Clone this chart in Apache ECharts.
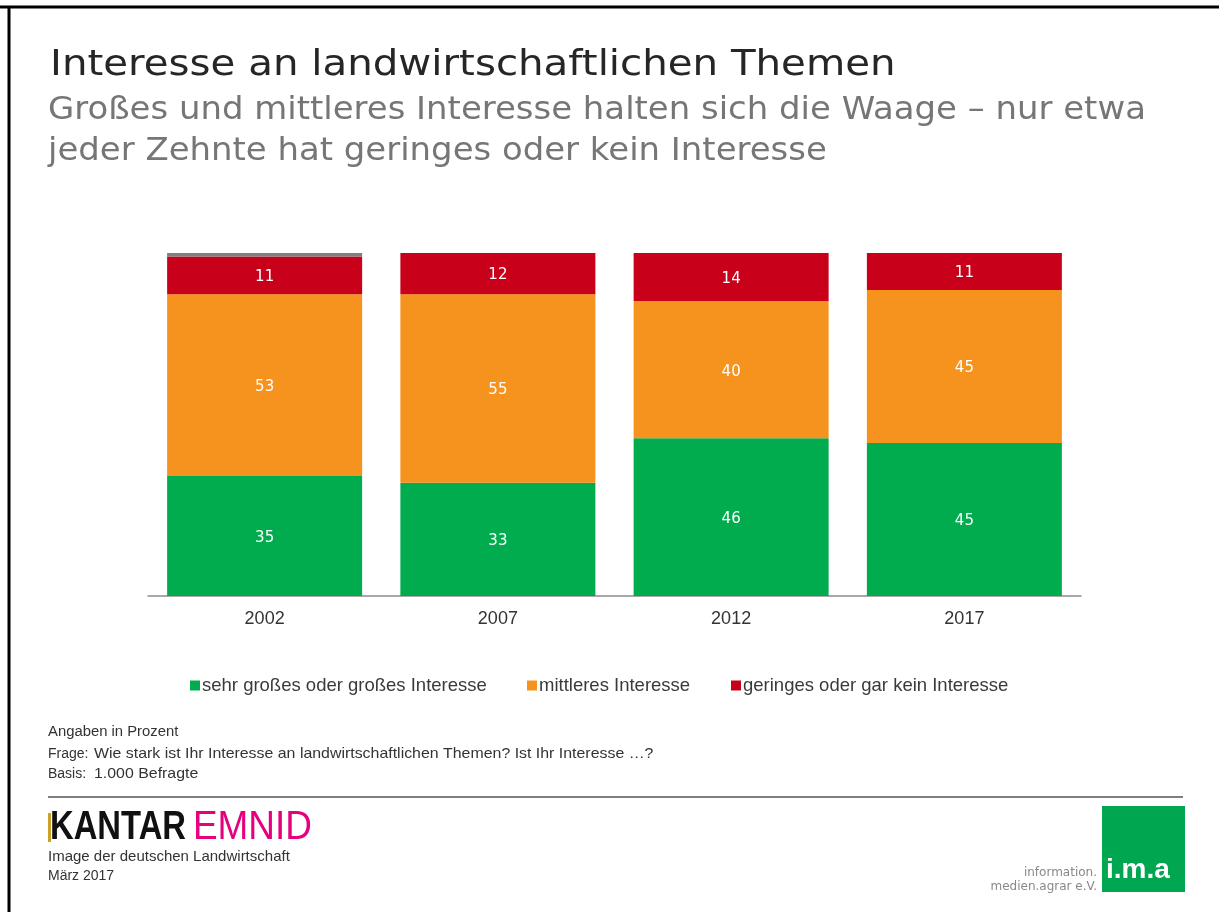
<!DOCTYPE html>
<html>
<head>
<meta charset="utf-8">
<script src="https://cdn.jsdelivr.net/npm/echarts@6/dist/echarts.min.js"></script>
<style>
html,body{margin:0;padding:0;background:#fff;}
#chart{width:1219px;height:912px;}
</style>
</head>
<body>
<div id="chart"></div>
<script>
const categories = ['2002', '2007', '2012', '2017'];
const seriesNames = ['sehr großes oder großes Interesse', 'mittleres Interesse', 'geringes oder gar kein Interesse'];
const valuesHigh = [35, 33, 46, 44.6];
const valuesMedium = [53, 55, 40, 44.6];
const valuesLow = [11, 12, 14, 10.8];
const valuesUnknown = [1, 0, 0, 0];

const colors = ['#00AC4E', '#F6921E', '#C8001A', '#7F7F7F'];

const chart = echarts.init(document.getElementById('chart'), null, {renderer: 'canvas'});

const labelStyle = {
  show: true,
  position: 'inside',
  color: '#ffffff',
  fontFamily: 'DejaVu Sans',
  fontSize: 15,
  offset: [0, 2],
  formatter: p => Math.round(p.value)
};

function barSeries(name, data, color, withLabel) {
  return {
    name: name,
    type: 'bar',
    stack: 'total',
    data: data,
    barWidth: 195,
    itemStyle: {color: color},
    label: withLabel ? labelStyle : {show: false},
    emphasis: {disabled: true}
  };
}

function legendAt(name, left) {
  return {
    data: [name],
    top: 671,
    left: left,
    itemWidth: 10,
    itemHeight: 10,
    icon: 'rect',
    selectedMode: false,
    textStyle: {color: '#3a3a3a', fontFamily: 'Liberation Sans', fontSize: 18.5, padding: [0, 0, 0, -3]}
  };
}

function txt(x, y, text, font, fill, sx) {
  return {type: 'text', x: x, y: y, scaleX: sx || 1, style: {text: text, font: font, fill: fill, align: 'left', verticalAlign: 'top'}};
}

const foot = '15px "Liberation Sans"';
const footSmall = '14px "Liberation Sans"';

chart.setOption({
  animation: false,
  backgroundColor: '#ffffff',
  grid: {left: 148, right: 138, top: 253, bottom: 316, containLabel: false},
  xAxis: {
    type: 'category',
    data: categories,
    axisLine: {show: true, lineStyle: {color: '#8c8c8c', width: 1.5}},
    axisTick: {show: false},
    axisLabel: {color: '#333333', fontFamily: 'Liberation Sans', fontSize: 18, margin: 14}
  },
  yAxis: {
    type: 'value', min: 0, max: 100, show: false,
    splitLine: {show: false}
  },
  legend: [
    legendAt(seriesNames[0], 185),
    legendAt(seriesNames[1], 522),
    legendAt(seriesNames[2], 726)
  ],
  series: [
    barSeries(seriesNames[0], valuesHigh, colors[0], true),
    barSeries(seriesNames[1], valuesMedium, colors[1], true),
    barSeries(seriesNames[2], valuesLow, colors[2], true),
    barSeries('weiß nicht', valuesUnknown, colors[3], false)
  ],
  graphic: [
    {type: 'line', shape: {x1: 0, y1: 7, x2: 1219, y2: 7}, style: {stroke: '#000', lineWidth: 3}},
    {type: 'line', shape: {x1: 9, y1: 6, x2: 9, y2: 912}, style: {stroke: '#000', lineWidth: 3}},
    txt(50, 48, 'Interesse an landwirtschaftlichen Themen', '36px "DejaVu Sans"', '#262626', 1.12),
    txt(48, 95, 'Großes und mittleres Interesse halten sich die Waage – nur etwa', '32px "DejaVu Sans"', '#767676', 1.06),
    txt(48, 136, 'jeder Zehnte hat geringes oder kein Interesse', '32px "DejaVu Sans"', '#767676', 1.06),
    txt(48, 725, 'Angaben in Prozent', footSmall, '#333', 1.06),
    txt(48, 747, 'Frage:', footSmall, '#333'),
    txt(94, 746, 'Wie stark ist Ihr Interesse an landwirtschaftlichen Themen? Ist Ihr Interesse …?', foot, '#333', 1.06),
    txt(48, 767, 'Basis:', footSmall, '#333'),
    txt(94, 766, '1.000 Befragte', foot, '#333', 1.06),
    {type: 'line', shape: {x1: 48, y1: 797, x2: 1183, y2: 797}, style: {stroke: '#555', lineWidth: 1.5}},
    {type: 'rect', shape: {x: 48, y: 813, width: 3, height: 29}, style: {fill: '#C9A227'}},
    txt(50, 807, 'KANTAR', 'bold 41px "Liberation Sans"', '#111', 0.8),
    txt(193, 807, 'EMNID', '41px "Liberation Sans"', '#E5007E', 0.9),
    txt(48, 849, 'Image der deutschen Landwirtschaft', foot, '#333'),
    txt(48, 869, 'März 2017', '14px "Liberation Sans"', '#333'),
    {type: 'rect', shape: {x: 1102, y: 806, width: 83, height: 86}, style: {fill: '#00A650'}},
    txt(1106, 856, 'i.m.a', 'bold 28px "Liberation Sans"', '#fff'),
    {type: 'text', x: 1097, y: 867, style: {text: 'information.', font: '12px "DejaVu Sans"', fill: '#888', align: 'right', verticalAlign: 'top'}},
    {type: 'text', x: 1097, y: 881, style: {text: 'medien.agrar e.V.', font: '12px "DejaVu Sans"', fill: '#888', align: 'right', verticalAlign: 'top'}}
  ]
});
</script>
</body>
</html>
